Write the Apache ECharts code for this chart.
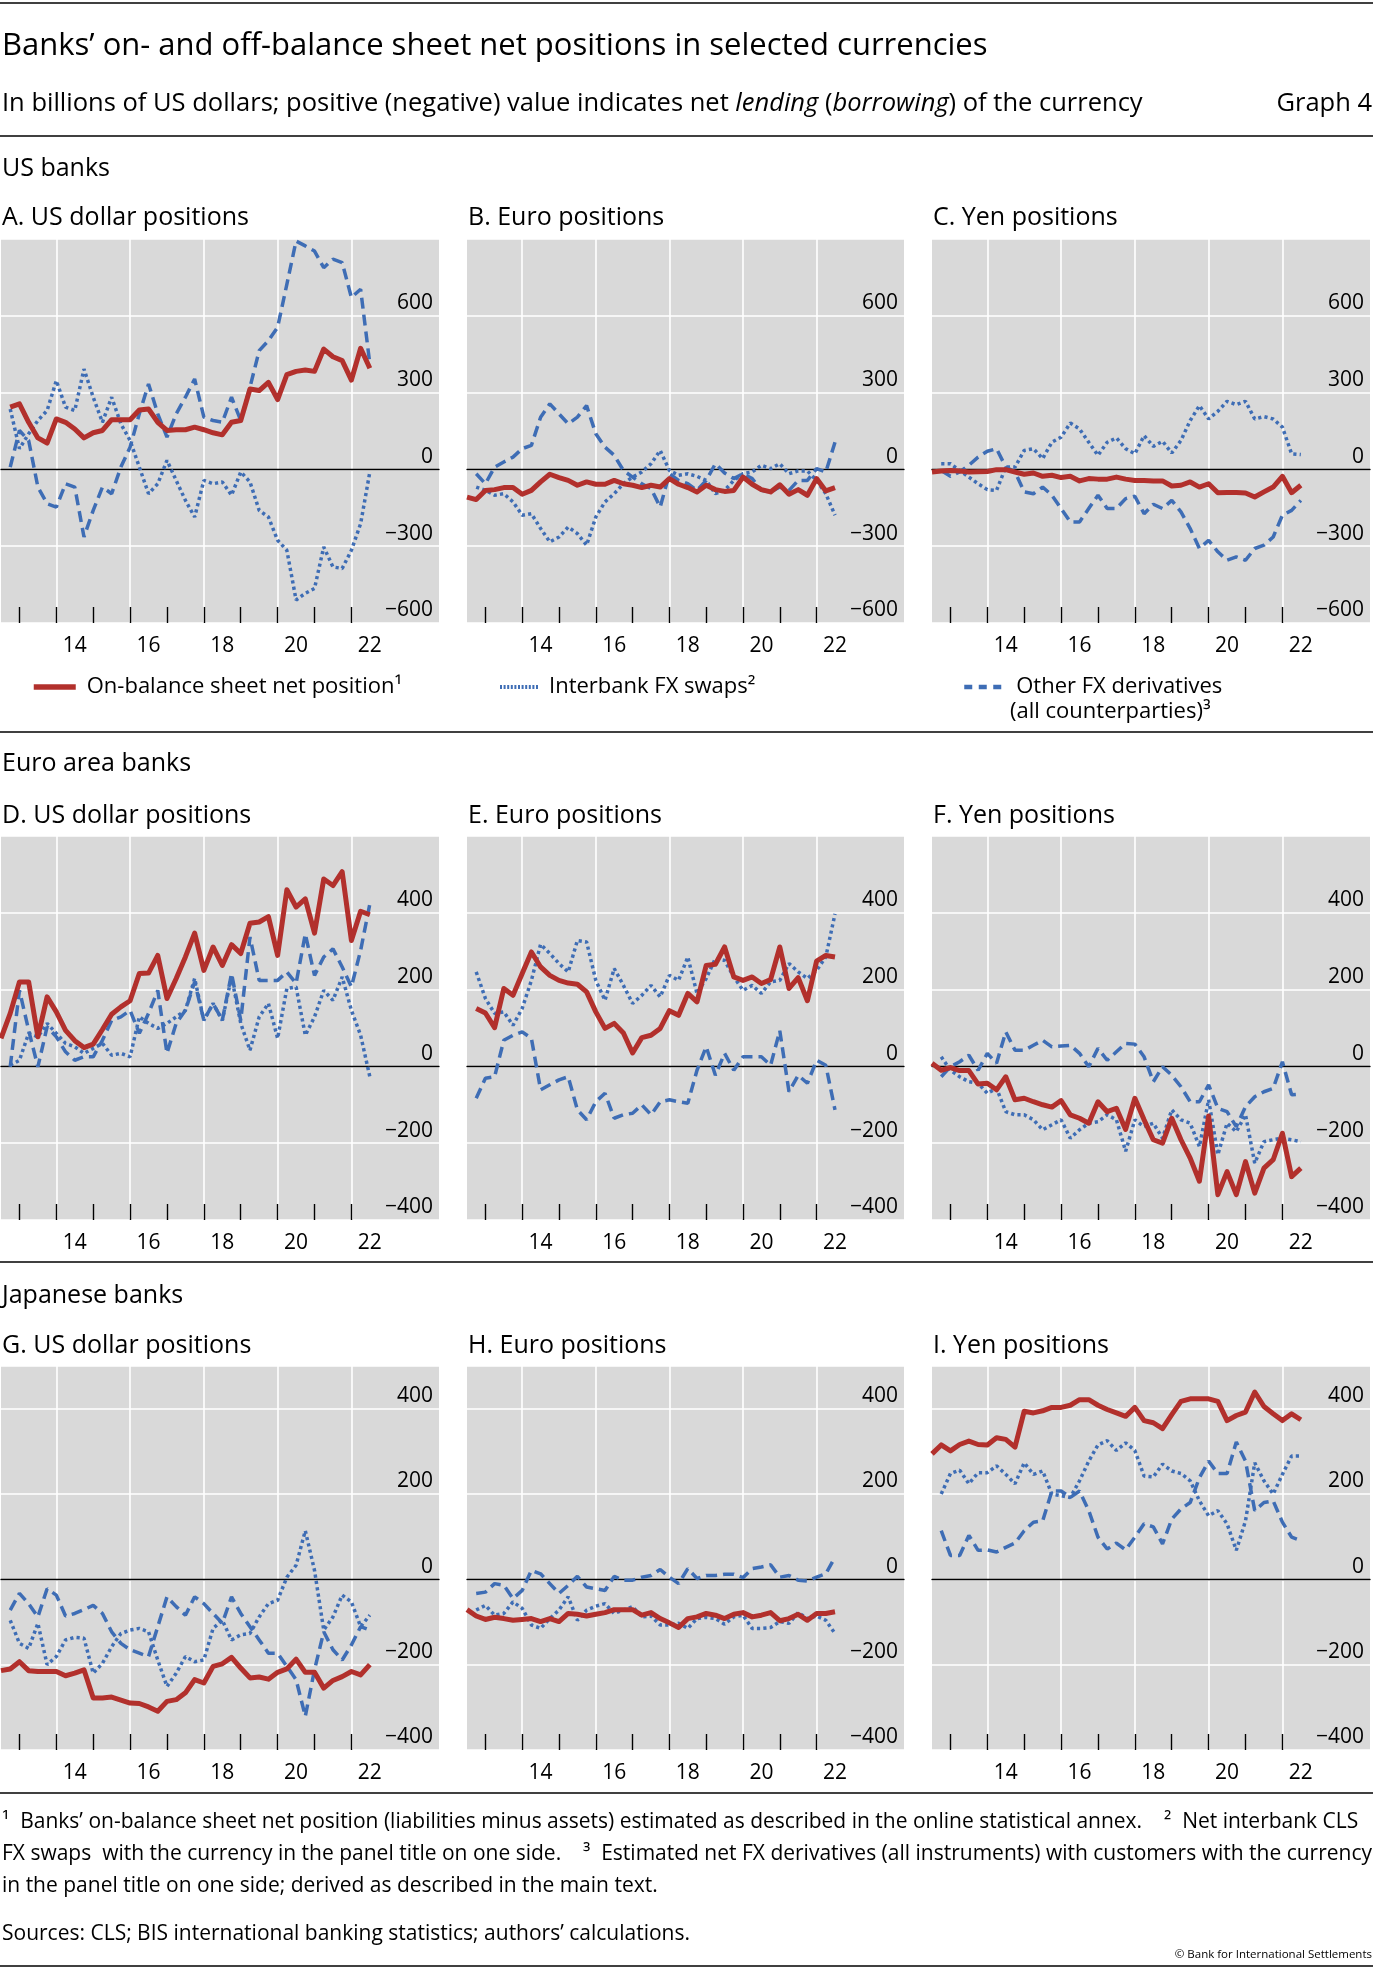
<!DOCTYPE html>
<html><head><meta charset="utf-8">
<script src="https://cdn.jsdelivr.net/npm/echarts@6/dist/echarts.min.js"></script>
<style>html,body{margin:0;padding:0;background:#fff}#c{width:1373px;height:1970px}</style>
</head><body><div id="c"></div>
<script>
// ---------- time axis: points every 1/8 year from 2012.5 (data are quarterly, on every 2nd point) ----------
const axisPoints = [];
for (let k = 0; k <= 95; k++) axisPoints.push((2012.5 + k / 8).toFixed(3));
const tickYears = [2013, 2014, 2015, 2016, 2017, 2018, 2019, 2020, 2021, 2022];
const gridYears = [2014, 2016, 2018, 2020, 2022];
const labelYears = [2014, 2016, 2018, 2020, 2022];

const seriesNames = ['On-balance sheet net position', 'Interbank FX swaps', 'Other FX derivatives (all counterparties)'];

// ---------- quarterly values, first = 2012 Q3 ... last = 2022 Q3 ----------
// US banks
const usUsdOn = [null,243,256,184,123,103,197,184,158,123,143,152,194,194,194,232,236,184,152,155,155,165,155,143,135,184,191,314,308,340,273,370,383,388,383,470,440,425,349,473,395];
const usUsdSwap = [null,236,81,139,191,230,347,243,230,392,282,184,282,178,113,9,-95,-56,35,-43,-121,-186,-43,-56,-49,-101,-10,-49,-160,-186,-277,-316,-510,-484,-465,-303,-381,-387,-316,-212,-10];
const usUsdOther = [null,9,152,113,-69,-134,-147,-56,-69,-264,-160,-69,-95,9,87,217,334,217,126,217,282,353,204,191,184,282,191,321,464,503,555,723,892,873,853,788,821,808,671,704,412];

const usEurOn = [-108,-118,-82,-79,-71,-71,-97,-82,-49,-19,-32,-43,-62,-49,-58,-58,-43,-56,-62,-71,-62,-69,-36,-58,-71,-88,-62,-79,-86,-82,-30,-58,-79,-88,-60,-97,-79,-101,-36,-84,-71];
const usEurSwap = [null,-69,-82,-101,-95,-127,-179,-173,-231,-283,-264,-225,-251,-296,-186,-127,-95,-56,-30,-10,22,74,-4,-23,-17,-27,-43,-95,-82,-43,-17,-10,16,3,22,-17,-6,-6,-43,-95,-179];
const usEurOther = [null,-17,-56,9,29,48,81,94,204,256,217,178,204,249,139,87,55,-4,-30,-56,-75,-147,-17,-43,-56,-82,-43,22,-14,-36,-17,-36,-82,-88,-69,-82,-43,-43,3,-10,106];

const usJpyOn = [-10,-6,-4,-6,-10,-9,-8,-1,-1,-10,-19,-14,-27,-23,-32,-27,-45,-36,-38,-38,-30,-38,-43,-43,-45,-45,-65,-62,-49,-69,-56,-91,-90,-90,-92,-108,-88,-69,-27,-91,-62];
const usJpySwap = [null,22,22,-4,-30,-56,-79,-82,9,9,74,81,42,106,126,181,158,106,55,106,123,81,61,132,90,110,64,113,191,249,197,227,266,253,266,197,206,197,165,61,58];
const usJpyOther = [null,-4,-27,-10,16,48,71,81,9,-10,-88,-95,-69,-101,-153,-205,-205,-153,-101,-153,-153,-114,-105,-173,-136,-153,-121,-166,-231,-309,-277,-322,-355,-342,-355,-309,-296,-264,-179,-160,-121];

// Euro area banks
const euUsdOn = [73,138,220,220,77,181,142,94,67,49,58,96,136,155,171,242,243,289,177,229,285,347,250,311,263,317,294,373,376,390,289,460,415,436,347,488,471,507,328,404,395];
const euUsdSwap = [null,3,16,86,77,112,86,60,51,34,47,60,29,34,25,129,112,99,112,129,146,229,120,164,120,233,112,42,129,164,73,203,207,81,129,198,172,233,146,81,-27];
const euUsdOther = [null,-1,198,94,-1,103,77,38,16,25,25,68,120,129,146,86,138,198,34,112,146,220,120,164,120,242,120,337,224,224,224,246,216,345,237,285,306,259,207,302,423];

const euEurOn = [null,151,139,101,203,185,242,298,259,237,224,217,214,194,142,99,112,87,35,75,81,99,145,133,190,168,263,266,311,233,224,233,216,226,311,203,231,171,274,289,285];
const euEurSwap = [null,246,177,138,142,107,151,224,318,294,268,246,328,324,224,172,255,211,164,185,211,181,237,224,285,190,229,281,276,233,198,211,190,220,224,268,246,229,250,285,397];
const euEurOther = [null,-83,-31,-27,68,81,90,73,-61,-48,-35,-27,-113,-139,-92,-70,-135,-126,-122,-100,-126,-92,-87,-92,-96,-10,51,-23,34,-10,25,25,25,3,93,-66,-23,-44,16,3,-113];

const euJpyOn = [8,-10,-3,-11,-11,-46,-44,-61,-27,-87,-83,-92,-100,-106,-89,-126,-135,-148,-92,-118,-109,-164,-83,-139,-191,-200,-135,-191,-239,-299,-129,-334,-274,-334,-248,-330,-265,-243,-174,-287,-265];
const euJpySwap = [null,25,-10,-27,-40,-44,-70,-57,-118,-126,-126,-139,-165,-152,-139,-187,-165,-148,-144,-126,-139,-221,-139,-157,-148,-187,-113,-139,-148,-209,-87,-230,-148,-170,-126,-252,-196,-191,-187,-191,-196];
const euJpyOther = [null,-27,-1,12,29,-10,34,8,90,42,42,55,68,51,53,55,34,-1,47,16,38,60,58,25,-40,-1,-23,-53,-92,-92,-48,-109,-118,-157,-105,-79,-66,-57,12,-74,-72];

// Japanese banks
const jpUsdOn = [-214,-210,-193,-214,-216,-216,-216,-226,-220,-212,-278,-278,-276,-283,-290,-291,-299,-309,-286,-282,-266,-235,-243,-204,-198,-183,-208,-231,-229,-234,-218,-210,-187,-218,-218,-255,-237,-228,-216,-224,-200];
const jpUsdSwap = [null,-96,-150,-162,-103,-200,-181,-142,-136,-138,-220,-197,-158,-127,-119,-115,-123,-189,-251,-220,-181,-193,-189,-115,-96,-142,-130,-127,-88,-57,-49,5,33,114,21,-119,-88,-37,-53,-111,-84];
const jpUsdOther = [null,-72,-33,-57,-88,-22,-37,-86,-80,-71,-61,-80,-123,-150,-165,-173,-181,-111,-41,-64,-84,-41,-57,-80,-103,-41,-80,-111,-142,-173,-173,-204,-235,-321,-212,-123,-165,-189,-154,-111,-119];

const jpEurOn = [-71,-86,-94,-89,-92,-96,-94,-92,-99,-92,-99,-80,-82,-86,-82,-78,-71,-71,-71,-84,-78,-92,-102,-113,-92,-88,-80,-84,-92,-82,-78,-88,-84,-78,-97,-92,-82,-96,-80,-80,-76];
const jpEurSwap = [null,-72,-61,-84,-80,-53,-68,-107,-115,-92,-72,-41,-96,-72,-63,-57,-80,-72,-64,-88,-86,-107,-107,-103,-115,-92,-89,-92,-105,-88,-84,-115,-115,-113,-99,-103,-78,-92,-86,-96,-127];
const jpEurOther = [null,-33,-30,-10,-14,-45,-26,21,13,-10,-33,-14,7,-18,-22,-26,7,-2,-2,5,9,23,5,-10,25,2,9,9,12,12,4,25,29,34,5,9,-2,-4,5,13,52];

const jpJpyOn = [294,315,301,316,324,316,315,332,328,310,394,390,395,403,403,408,421,421,408,398,390,382,403,372,367,353,386,417,423,423,423,417,372,384,392,439,405,388,372,388,374];
const jpJpySwap = [null,200,248,256,224,250,250,266,246,224,273,246,254,200,196,192,231,277,315,325,302,320,302,242,240,270,254,248,231,184,149,161,130,68,137,273,231,200,246,289,289];
const jpJpyOther = [null,114,56,56,103,68,69,64,75,85,114,134,137,207,207,192,207,161,99,71,85,69,99,130,123,83,141,165,180,238,277,248,248,322,277,161,180,184,134,99,91];

const panelTitles = ['A. US dollar positions','B. Euro positions','C. Yen positions',
  'D. US dollar positions','E. Euro positions','F. Yen positions',
  'G. US dollar positions','H. Euro positions','I. Yen positions'];
const panelData = [
  [usUsdOn, usUsdSwap, usUsdOther], [usEurOn, usEurSwap, usEurOther], [usJpyOn, usJpySwap, usJpyOther],
  [euUsdOn, euUsdSwap, euUsdOther], [euEurOn, euEurSwap, euEurOther], [euJpyOn, euJpySwap, euJpyOther],
  [jpUsdOn, jpUsdSwap, jpUsdOther], [jpEurOn, jpEurSwap, jpEurOther], [jpJpyOn, jpJpySwap, jpJpyOther]
];
const rowScales = [
  {min: -600, max: 900, interval: 300},
  {min: -400, max: 600, interval: 200},
  {min: -400, max: 500, interval: 200}
];

// ---------- layout & style ----------
const FONT = '"Open Sans", "Noto Sans", sans-serif';
const RED = '#B2302C', BLUE = '#3E6DB5', BG = '#D9D9D9';
const rowLayout = [{top: 239, titleY: 218}, {top: 836, titleY: 816}, {top: 1366, titleY: 1346}];
const PLOT_H = 384;
const colLayout = [{left: 1, width: 438}, {left: 467, width: 437}, {left: 932, width: 438}];
const lineStyles = [
  {color: RED, width: 5, join: 'round'},
  {color: BLUE, width: 3.5, type: [3.2, 3.2]},
  {color: BLUE, width: 3.5, type: [11, 6]}
];

const tOf = v => parseFloat(v);
const isTick = v => Number.isInteger(tOf(v)) && tickYears.includes(tOf(v));
const isGrid = v => Number.isInteger(tOf(v)) && gridYears.includes(tOf(v));
const isLabel = v => tOf(v) - Math.floor(tOf(v)) === 0.5 && labelYears.includes(Math.floor(tOf(v)));
// quarterly values sit on every second axis point
const onAxis = arr => axisPoints.map((p, k) => (k % 2 === 0 && k / 2 < arr.length) ? arr[k / 2] : null);

const legendText = {fontSize: 22, fontFamily: FONT, color: '#000', lineHeight: 24, padding: [0, 0, 0, 6]};
const option = {
  animation: false,
  backgroundColor: '#fff',
  grid: [], xAxis: [], yAxis: [], series: [],
  legend: [
    {data: [seriesNames[0]], left: 26, top: 670, itemWidth: 42, itemHeight: 14, selectedMode: false,
     formatter: n => n + '\u00B9', lineStyle: {width: 5.5}, itemStyle: {opacity: 0}, textStyle: legendText},
    {data: [seriesNames[1]], left: 493, top: 670, itemWidth: 38, itemHeight: 14, selectedMode: false,
     formatter: n => n + '\u00B2', lineStyle: {width: 4, type: [2, 1.6]}, itemStyle: {opacity: 0}, textStyle: legendText},
    {data: [seriesNames[2]], left: 957, top: 670, itemWidth: 41, itemHeight: 14, selectedMode: false,
     formatter: () => 'Other FX derivatives', lineStyle: {width: 4.5, type: [8, 6.5]}, itemStyle: {opacity: 0}, textStyle: legendText}
  ],
  graphic: []
};

panelTitles.forEach((title, i) => {
  const r = Math.floor(i / 3), c = i % 3;
  const rl = rowLayout[r], cl = colLayout[c], sc = rowScales[r];
  option.grid.push({left: cl.left, top: rl.top, width: cl.width, height: PLOT_H,
    show: true, backgroundColor: BG, borderWidth: 0});
  option.xAxis.push({gridIndex: i, type: 'category', data: axisPoints, boundaryGap: false, position: 'bottom', z: 1,
    axisLine: {show: true, onZero: true, lineStyle: {color: '#000', width: 1.3}},
    axisTick: {show: false}, axisLabel: {show: false}, splitLine: {show: false}});
  option.xAxis.push({gridIndex: i, type: 'category', data: axisPoints, boundaryGap: false, position: 'bottom',
    axisLine: {show: false, onZero: false},
    axisTick: {show: true, inside: true, length: 16, interval: (idx, v) => isTick(v), lineStyle: {color: '#000', width: 1.4}},
    axisLabel: {show: true, interval: (idx, v) => isLabel(v), formatter: v => String(Math.floor(tOf(v))).slice(2),
      fontSize: 21, fontFamily: FONT, color: '#000', margin: 13},
    splitLine: {show: true, interval: (idx, v) => isGrid(v), lineStyle: {color: '#fff', width: 1.6}}});
  option.yAxis.push({gridIndex: i, type: 'value', position: 'right', min: sc.min, max: sc.max, interval: sc.interval,
    axisLine: {show: false}, axisTick: {show: false},
    axisLabel: {inside: true, margin: 6, showMaxLabel: false, verticalAlign: 'bottom', padding: [0, 0, 2, 0],
      formatter: v => String(v).replace('-', '\u2212'), fontSize: 21, fontFamily: FONT, color: '#000'},
    splitLine: {show: true, lineStyle: {color: '#fff', width: 1.6}}});
  [1, 2, 0].forEach(s => {
    option.series.push({type: 'line', name: seriesNames[s], xAxisIndex: 2 * i, yAxisIndex: i,
      data: onAxis(panelData[i][s]), connectNulls: true, symbol: 'none', showSymbol: false, silent: true,
      z: s === 0 ? 4 : 3, lineStyle: lineStyles[s], emphasis: {disabled: true}});
  });
  option.graphic.push({type: 'text', x: cl.left + 1, y: rl.titleY,
    style: {text: title, fontSize: 25, fontFamily: FONT, fill: '#000', align: 'left', verticalAlign: 'middle'}});
});

const rule = y => ({type: 'line', shape: {x1: 0, y1: y, x2: 1373, y2: y}, style: {stroke: '#000', lineWidth: 1.5}});
const txt = (x, y, text, size, align) => ({type: 'text', x, y,
  style: {text, fontSize: size, fontFamily: FONT, fill: '#000', align: align || 'left', verticalAlign: 'middle'}});

option.graphic.push(
  rule(3), rule(136), rule(732), rule(1262), rule(1793), rule(1966),
  txt(2, 46, 'Banks\u2019 on- and off-balance sheet net positions in selected currencies', 31),
  {type: 'text', x: 2, y: 104, style: {
    text: '{n|In billions of US dollars; positive (negative) value indicates net }{i|lending}{n| (}{i|borrowing}{n|) of the currency}',
    fontSize: 25.5, fontFamily: FONT, fill: '#000', align: 'left', verticalAlign: 'middle',
    rich: {n: {fontSize: 25.5, fontFamily: FONT, fill: '#000'}, i: {fontSize: 25.5, fontFamily: FONT, fontStyle: 'italic', fill: '#000'}}}},
  txt(1372, 104, 'Graph 4', 25.5, 'right'),
  txt(2, 169, 'US banks', 25),
  txt(2, 764, 'Euro area banks', 25),
  txt(2, 1296, 'Japanese banks', 25),
  txt(1010, 712, '(all counterparties)\u00B3', 22),
  txt(2, 1822, '\u00B9  Banks\u2019 on-balance sheet net position (liabilities minus assets) estimated as described in the online statistical annex.    \u00B2  Net interbank CLS', 21),
  txt(2, 1854, 'FX swaps  with the currency in the panel title on one side.    \u00B3  Estimated net FX derivatives (all instruments) with customers with the currency', 21),
  txt(2, 1886, 'in the panel title on one side; derived as described in the main text.', 21),
  txt(2, 1934, 'Sources: CLS; BIS international banking statistics; authors\u2019 calculations.', 21),
  txt(1372, 1955, '\u00A9 Bank for International Settlements', 11.5, 'right')
);

const chart = echarts.init(document.getElementById('c'), null, {renderer: 'canvas'});
chart.setOption(option);
</script>
</body></html>
